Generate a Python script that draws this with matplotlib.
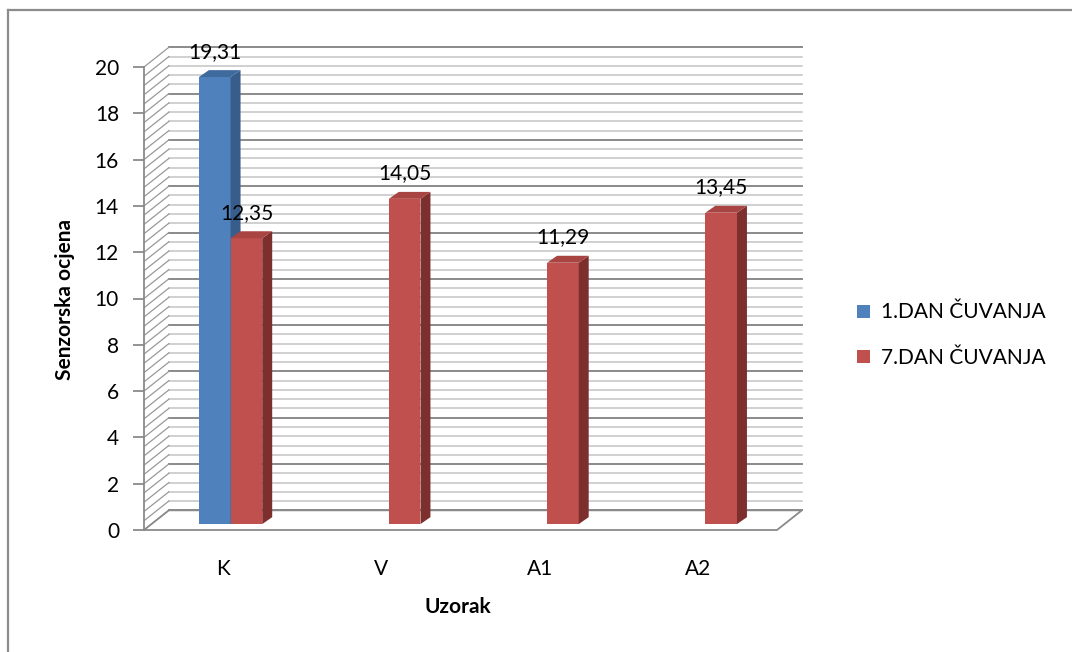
import matplotlib.pyplot as plt
import numpy as np
from matplotlib.patches import Polygon, Patch
from matplotlib.lines import Line2D

plt.rcParams['font.family'] = ['Lato', 'DejaVu Sans']

categories = ['K', 'V', 'A1', 'A2']
series_names = ['1.DAN ČUVANJA', '7.DAN ČUVANJA']
day1 = [19.31, None, None, None]
day7 = [12.35, 14.05, 11.29, 13.45]
yticks = np.arange(0, 21, 2)

front_cols = ['#4f81bd', '#c0504d']
side_cols = ['#385d8a', '#7c2f2d']
top_cols = ['#3e6a9e', '#a84542']
fs = 15

fig = plt.figure(figsize=(10.72, 6.52), dpi=100)
ax = fig.add_axes([144 / 1072, 122 / 652, 633 / 1072, 463 / 652])
ax.set_xlim(0, 4)
ax.set_ylim(0, 20)

# oblique depth of the plot box and of each bar (data units)
ddx, ddy = 0.157, 0.85
bdx, bdy = 0.063, 0.30
sx, sy = 0.3 * ddx, 0.3 * ddy
bw = 0.2

# back wall gridlines and side wall diagonals
grid = np.round(np.arange(0, 20.01, 0.4), 2)
for v in grid:
    major = abs(v / 2 - round(v / 2)) < 1e-6
    c = '#8a8a8a' if major else '#c4c4c4'
    lw = 1.4 if major else 1.1
    ax.plot([ddx, 4 + ddx], [v + ddy, v + ddy], color=c, lw=lw, clip_on=False, zorder=1)
    ax.plot([0, ddx], [v, v + ddy], color='#999999', lw=0.9, clip_on=False, zorder=1)

floor = Polygon([(0, 0), (4, 0), (4 + ddx, ddy), (ddx, ddy)], closed=True,
                facecolor='white', edgecolor='#8a8a8a', lw=1.3, clip_on=False, zorder=2)
ax.add_patch(floor)

series = [day1, day7]
for s, vals in enumerate(series):
    for i, v in enumerate(vals):
        if v is None:
            continue
        x0 = i + 0.5 - bw + s * bw + sx
        x1 = x0 + bw
        y0, y1 = sy, sy + v
        ax.bar(x0, v, width=bw, bottom=y0, align='edge', color=front_cols[s],
               lw=0, clip_on=False, zorder=3 + s)
        side = Polygon([(x1, y0), (x1 + bdx, y0 + bdy), (x1 + bdx, y1 + bdy), (x1, y1)],
                       closed=True, facecolor=side_cols[s], lw=0, clip_on=False, zorder=3 + s)
        top = Polygon([(x0, y1), (x1, y1), (x1 + bdx, y1 + bdy), (x0 + bdx, y1 + bdy)],
                      closed=True, facecolor=top_cols[s], lw=0, clip_on=False, zorder=3 + s)
        ax.add_patch(side)
        ax.add_patch(top)
        ax.annotate(f'{v:.2f}'.replace('.', ','), (x0 + bw / 2, y1 + bdy),
                    xytext=(0, 9), textcoords='offset points', ha='center',
                    va='baseline', fontsize=fs, zorder=6)

for sp in ['top', 'right', 'bottom']:
    ax.spines[sp].set_visible(False)
ax.spines['left'].set_color('#8a8a8a')
ax.spines['left'].set_linewidth(1.3)
ax.set_yticks(yticks)
ax.tick_params(axis='y', length=8, width=1.3, color='#8a8a8a', pad=10, labelsize=fs)
ax.set_xticks(np.arange(len(categories)) + 0.5)
ax.set_xticklabels(categories)
ax.tick_params(axis='x', length=0, pad=21, labelsize=fs)
ax.patch.set_visible(False)

fig.text(65 / 1072, 1 - 299 / 652, 'Senzorska ocjena', rotation=90, ha='center',
         va='center', fontsize=fs, fontweight='bold')
fig.text(458 / 1072, 1 - 607 / 652, 'Uzorak', ha='center', va='center',
         fontsize=fs, fontweight='bold')

handles = [Patch(facecolor=c, edgecolor='none') for c in front_cols]
fig.legend(handles, series_names, loc='center left', bbox_to_anchor=(857 / 1072, 1 - 335 / 652),
           frameon=False, fontsize=fs, handlelength=0.6, handleheight=0.6,
           handletextpad=0.55, labelspacing=1.2, borderpad=0, borderaxespad=0)

# outer chart border (left and top visible)
fig.add_artist(Line2D([8 / 1072, 8 / 1072], [0, 1 - 10 / 652], color='#8c8c8c', lw=1.6))
fig.add_artist(Line2D([8 / 1072, 1], [1 - 10 / 652, 1 - 10 / 652], color='#8c8c8c', lw=1.6))

fig.savefig('out.png', dpi=100)
